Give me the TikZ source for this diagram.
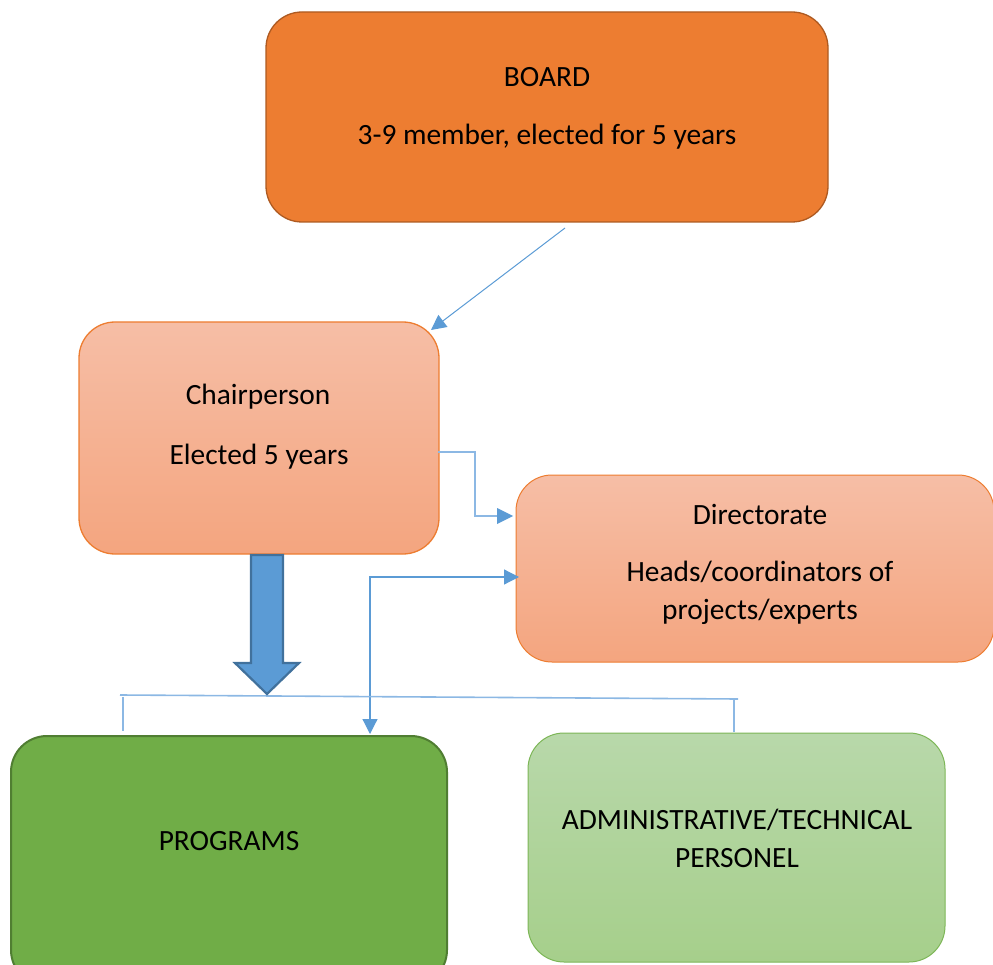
\documentclass[tikz,border=0pt]{standalone}
\usepackage{fontspec}
\setmainfont{Carlito}
\usetikzlibrary{arrows.meta}
\definecolor{boardfill}{HTML}{ED7D31}
\definecolor{boardline}{HTML}{AE5A21}
\definecolor{salmontop}{HTML}{F6BEA6}
\definecolor{salmonbot}{HTML}{F4A57F}
\definecolor{orangeline}{HTML}{ED7D31}
\definecolor{progfill}{HTML}{70AD47}
\definecolor{progline}{HTML}{507E32}
\definecolor{admtop}{HTML}{B8D8AA}
\definecolor{admbot}{HTML}{A6CF8B}
\definecolor{admline}{HTML}{7DB657}
\definecolor{conn}{HTML}{5B9BD5}
\definecolor{connlight}{HTML}{8CB8E4}
\definecolor{bigline}{HTML}{41719C}
\begin{document}
\begin{tikzpicture}[x=1pt,y=-1pt,
  box/.style={rectangle,rounded corners=36pt,line width=1.3pt,inner sep=0pt},
  lbl/.style={font=\fontsize{29.4}{38}\selectfont,align=center,inner sep=0pt,text=black},
  conarrow/.style={draw=conn,line width=1.2pt,-{Triangle[length=15pt,width=15pt]}},
  thinline/.style={draw=connlight,line width=1.6pt}]
\useasboundingbox (0,0) rectangle (993,965);
\clip (0,0) rectangle (993,965);
% boxes
\node[box,fill=boardfill,draw=boardline,minimum width=562pt,minimum height=210pt] (board) at (547,117) {};
\node[box,top color=salmontop,bottom color=salmonbot,draw=orangeline,minimum width=360pt,minimum height=232pt] (chair) at (259,438) {};
\node[box,top color=salmontop,bottom color=salmonbot,draw=orangeline,line width=1pt,minimum width=478pt,minimum height=187pt] (dir) at (755,568.5) {};
\node[box,fill=progfill,draw=progline,line width=2pt,minimum width=436pt,minimum height=250pt] (prog) at (229,861) {};
\node[box,top color=admtop,bottom color=admbot,draw=admline,line width=1pt,minimum width=417pt,minimum height=229pt] (adm) at (736.5,847.5) {};
% labels
\node[lbl] (boardt1) at (547,77) {BOARD};
\node[lbl] (boardt2) at (547,137) {3-9 member, elected for 5 years};
\node[lbl] (chairt1) at (258,397) {Chairperson};
\node[lbl] (chairt2) at (259,457) {Elected 5 years};
\node[lbl] (dirt1) at (760,514) {Directorate};
\node[lbl] (dirt2) at (760,593) {Heads/coordinators of\\projects/experts};
\node[lbl] (progt) at (229,841) {PROGRAMS};
\node[lbl] (admt) at (737,838) {ADMINISTRATIVE/TECHNICAL\\PERSONEL};
% connector coordinates
\coordinate (bs) at (565,228);
\coordinate (be) at (431,330);
\coordinate (cs) at (438,452);
\coordinate (ce) at (513,516);
\coordinate (ds) at (370,577);
\coordinate (de1) at (519,577);
\coordinate (de2) at (370,734);
\coordinate (hl) at (120,695);
\coordinate (hr) at (738,699);
\coordinate (tl1) at (123,697);
\coordinate (tl2) at (123,731);
\coordinate (tr1) at (734,699);
\coordinate (tr2) at (734,732);
% board -> chair
\draw[conarrow,line width=1pt] (bs) -- (be);
% chair -> directorate
\draw[draw=connlight,line width=1.6pt] (cs) -| (475,516) -- (500,516);
\fill[conn] (ce) -- ++(-16,-8) -- ++(0,16) -- cycle;
% double arrow
\draw[conarrow,{Triangle[length=15pt,width=15pt]}-{Triangle[length=15pt,width=15pt]}] (de1) -- (ds) -- (de2);
% horizontal line and ticks
\draw[thinline] (hl) -- (hr);
\draw[thinline] (tl1) -- (tl2);
\draw[thinline] (tr1) -- (tr2);
% big arrow
\filldraw[fill=conn,draw=bigline,line width=2.2pt,line join=miter]
  (251,555) -- (283,555) -- (283,663) -- (299,663) -- (267,694) -- (235,663) -- (251,663) -- cycle;
\end{tikzpicture}
\end{document}
